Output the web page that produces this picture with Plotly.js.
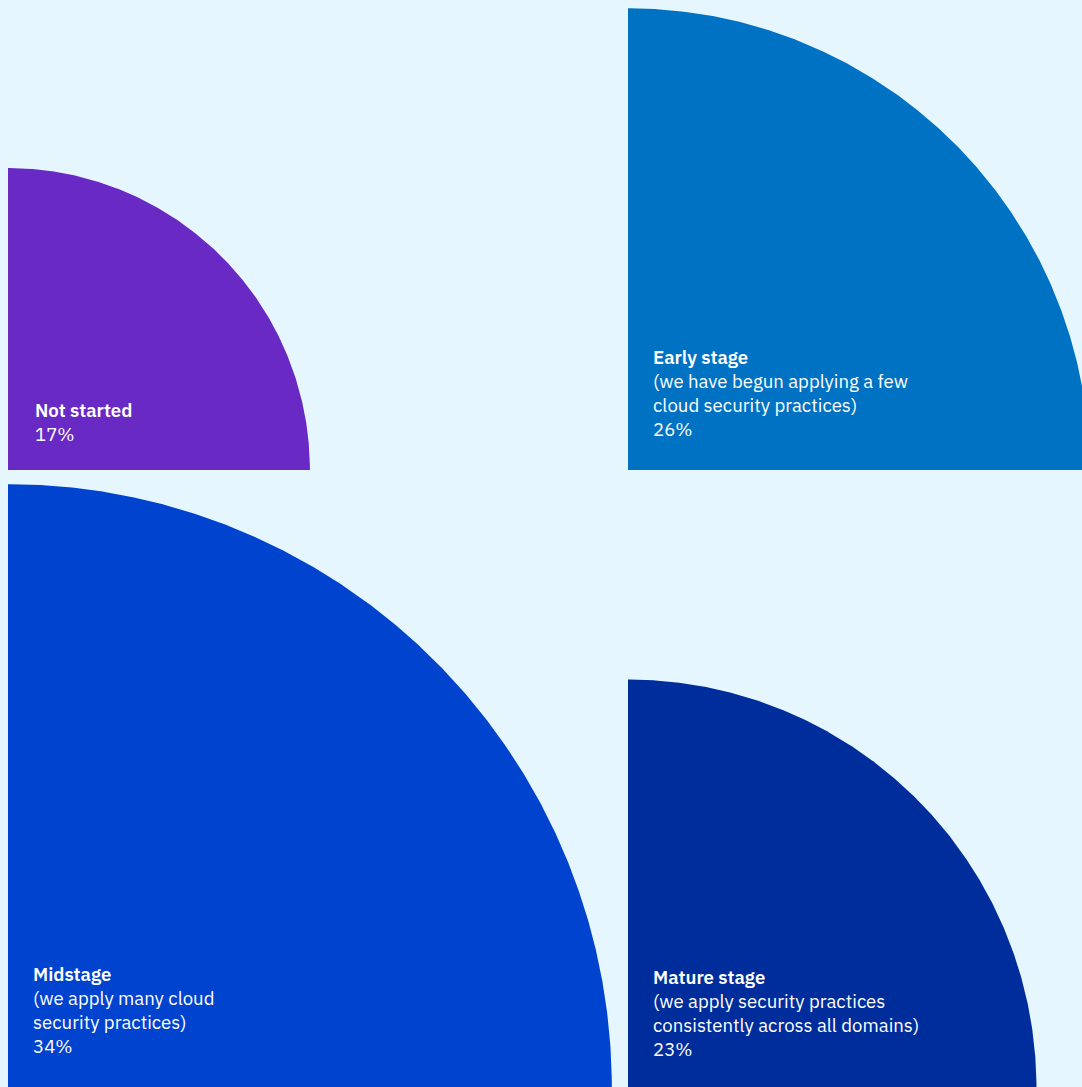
<!DOCTYPE html>
<html>
<head>
<meta charset="utf-8">
<script src="https://cdn.plot.ly/plotly-3.0.1.min.js"></script>
<style>
html,body{margin:0;padding:0;background:#e5f6ff;}
#chart{width:1082px;height:1087px;}
</style>
</head>
<body>
<div id="chart"></div>
<script>
// Data
const categories = ["Not started", "Early stage", "Midstage", "Mature stage"];
const descriptions = [
  [],
  ["(we have begun applying a few", "cloud security practices)"],
  ["(we apply many cloud", "security practices)"],
  ["(we apply security practices", "consistently across all domains)"]
];
const values = [17, 26, 34, 23];
const valueLabels = ["17%", "26%", "34%", "23%"];

// Layout / style
const colors = ["#6929c4", "#0072c3", "#0043ce", "#002d9c"];
const anchorX = [8, 628, 8, 628];
const anchorY = [470, 470, 1088, 1088];
const pxPerUnit = 17.76;
const textX = [33, 651, 31, 651];
const firstLineY = [410, 357, 974, 977];
const lineGap = 24;
const W = 1082, H = 1087;
const fontFamily = "'IBM Plex Sans', 'Noto Sans', 'Open Sans', sans-serif";
const fontSize = 18.6;

const traces = [];
const annotations = [];
values.forEach((v, i) => {
  const r = v * pxPerUnit;
  const xs = [anchorX[i]], ys = [anchorY[i]];
  const n = 400;
  for (let k = 0; k <= n; k++) {
    const t = Math.PI / 2 - (Math.PI / 2) * k / n;
    xs.push(anchorX[i] + r * Math.cos(t));
    ys.push(anchorY[i] - r * Math.sin(t));
  }
  xs.push(anchorX[i]); ys.push(anchorY[i]);
  traces.push({
    type: "scatter", mode: "lines", x: xs, y: ys,
    fill: "toself", fillcolor: colors[i],
    line: {width: 0, color: colors[i], shape: "linear"},
    hoverinfo: "skip", showlegend: false, name: categories[i]
  });
  const lines = [{t: categories[i], w: 600}]
    .concat(descriptions[i].map(d => ({t: d, w: 400})))
    .concat([{t: valueLabels[i], w: 400}]);
  lines.forEach((ln, j) => {
    annotations.push({
      x: textX[i], y: firstLineY[i] + j * lineGap,
      xref: "x", yref: "y", xanchor: "left", yanchor: "middle",
      text: ln.t, showarrow: false,
      font: {family: fontFamily, size: fontSize, color: "#ffffff", weight: ln.w}
    });
  });
});

const layout = {
  width: W, height: H, autosize: false,
  margin: {l: 0, r: 0, t: 0, b: 0, pad: 0},
  paper_bgcolor: "#e5f6ff", plot_bgcolor: "#e5f6ff",
  xaxis: {range: [0, W], visible: false, fixedrange: true},
  yaxis: {range: [H, 0], visible: false, fixedrange: true},
  annotations: annotations,
  showlegend: false
};
Plotly.newPlot("chart", traces, layout, {displayModeBar: false, staticPlot: true});
</script>
</body>
</html>
